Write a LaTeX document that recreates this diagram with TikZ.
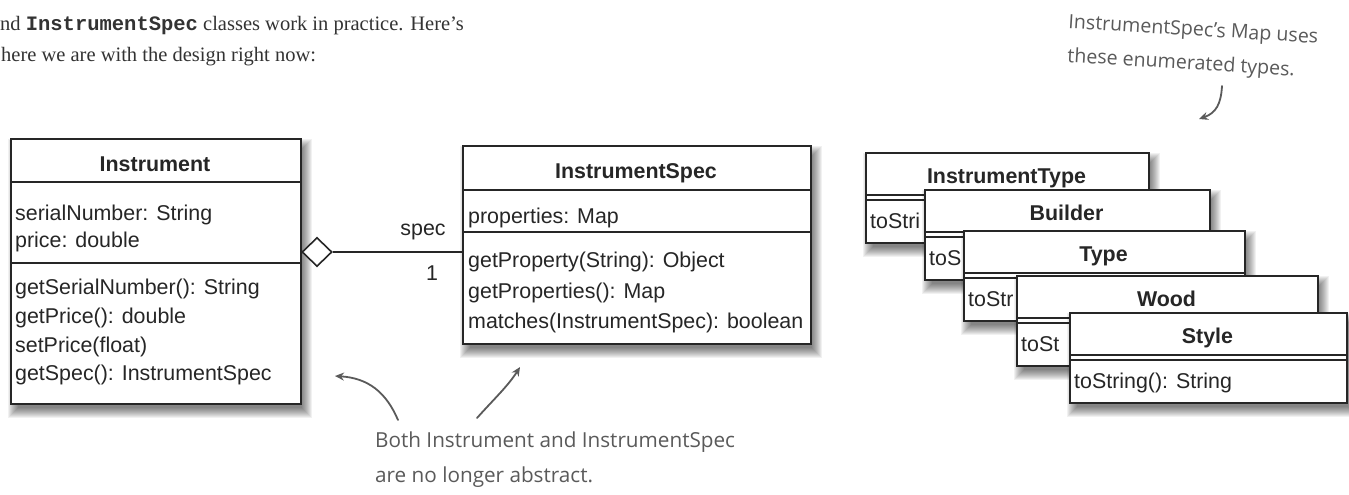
\documentclass[tikz,border=0pt]{standalone}
\usepackage{fontspec}
\setmainfont{Liberation Serif}
\setsansfont{Liberation Sans}
\setmonofont{Liberation Mono}
\newfontfamily\handfont{Open Sans}
\usetikzlibrary{shapes.geometric,arrows.meta}
\definecolor{ink}{HTML}{262626}
\definecolor{pen}{HTML}{5A5A5A}
\definecolor{bodytext}{HTML}{333333}
\newcommand\softshadow[4]{%
  \foreach \d in {-3,...,7}{%
    \fill[black,opacity=0.055] ({#1+5-\d},{#2+8-\d}) rectangle ({#3+5+\d},{#4+8+\d});
  }}
\tikzset{
  umlbox/.style={draw=ink, line width=1.6pt, fill=white, inner sep=0pt, anchor=north west},
  sepline/.style={draw=ink, line width=1.6pt},
  dblline/.style={draw=ink, line width=1.3pt},
  uml/.style={font=\sffamily\fontsize{21.4}{26}\selectfont, text=ink, inner sep=0pt, anchor=base west},
  umltitle/.style={font=\sffamily\bfseries\fontsize{21.4}{26}\selectfont, text=ink, inner sep=0pt, anchor=base},
  hand/.style={font=\handfont\fontsize{20.7}{26}\selectfont, text=pen, inner sep=0pt, anchor=base west},
  smallhand/.style={hand, font=\handfont\fontsize{19.6}{24}\selectfont},
  handarrow/.style={draw=pen, line width=1.8pt, -{Stealth[length=9pt,width=8pt]}, line cap=round},
  intro/.style={font=\rmfamily\fontsize{20.5}{31}\selectfont, text=bodytext, inner sep=0pt, anchor=base west}
}
% name, left, top, right, title, visible part of the method text
\newcommand\enumbox[6]{%
  \softshadow{#2}{#3}{#4}{#3+90}
  \node[umlbox, minimum width={(#4-#2)*1pt}, minimum height=90pt] (#1) at (#2,#3) {};
  \draw[dblline] (#2,{#3+43}) -- (#4,{#3+43});
  \draw[dblline] (#2,{#3+48}) -- (#4,{#3+48});
  \node[umltitle] (#1T) at ({(#2+#4)/2},{#3+31}) {#5};
  \node[uml] (#1M) at ({#2+5},{#3+76}) {#6};
}
\begin{document}
\begin{tikzpicture}[x=1pt,y=-1pt]
\useasboundingbox (0,0) rectangle (1349,495);
\fill[white] (0,0) rectangle (1349,495);

% intro text
\node[intro] (intro1) at (0,31) {nd {\ttfamily\bfseries InstrumentSpec} classes work in practice. Here’s};
\node[intro] (intro2) at (1,62) {here we are with the design right now:};

% Instrument
\softshadow{10}{138}{300}{403}
\node[umlbox, minimum width=290pt, minimum height=265pt] (inst) at (10,138) {};
\draw[sepline] (10,182) -- (300,182);
\draw[sepline] (10,263) -- (300,263);
\node[umltitle] (instT) at (155,171) {Instrument};
\node[uml] (instA1) at (15,220) {serialNumber: String};
\node[uml] (instA2) at (15,247) {price: double};
\node[uml] (instM1) at (15,294) {getSerialNumber(): String};
\node[uml] (instM2) at (15,323) {getPrice(): double};
\node[uml] (instM3) at (15,352) {setPrice(float)};
\node[uml] (instM4) at (15,380) {getSpec(): InstrumentSpec};

% InstrumentSpec
\softshadow{462}{145}{810}{343}
\node[umlbox, minimum width=348pt, minimum height=198pt] (spec) at (462,145) {};
\draw[sepline] (462,190) -- (810,190);
\draw[sepline] (462,232) -- (810,232);
\node[umltitle] (specT) at (636,178) {InstrumentSpec};
\node[uml] (specA1) at (468,223) {properties: Map};
\node[uml] (specM1) at (468,267) {getProperty(String): Object};
\node[uml] (specM2) at (468,298) {getProperties(): Map};
\node[uml] (specM3) at (468,328) {matches(InstrumentSpec): boolean};

% aggregation
\node[diamond, draw=ink, line width=1.6pt, fill=white, minimum width=30pt, minimum height=29pt, inner sep=0pt] (agg) at (317,252) {};
\draw[sepline] (agg.east) -- (agg.east -| spec.west);
\node[uml, anchor=base] (role) at (423,235) {spec};
\node[uml, anchor=base] (mult) at (432,280) {1};

% enumerations (each partly covered by the next)
\enumbox{etype}{865}{152}{1148}{InstrumentType}{toStri}
\enumbox{ebuild}{924}{189}{1209}{Builder}{toS}
\enumbox{etyp}{963}{230}{1244}{Type}{toStr}
\enumbox{ewood}{1016}{275}{1317}{Wood}{toSt}
\enumbox{estyle}{1069}{312}{1346}{Style}{toString(): String}

% notes
\node[smallhand, rotate=-3.5] (note1a) at (1068,28) {InstrumentSpec’s Map uses};
\node[smallhand, rotate=-3.5] (note1b) at (1067,62) {these enumerated types.};
\coordinate (n1s) at (1222,86);
\coordinate (n1e) at (1199,119);
\draw[handarrow] (n1s) .. controls (1221,104) and (1216,113) .. (n1e);

\node[hand] (note2a) at (375,447) {Both Instrument and InstrumentSpec};
\node[hand] (note2b) at (375,482) {are no longer abstract.};
\coordinate (a1s) at (398,420);
\coordinate (a1e) at (335,376);
\coordinate (a2s) at (477,418);
\coordinate (a2e) at (520,367);
\draw[handarrow] (a1s) .. controls (386,392) and (368,378) .. (a1e);
\draw[handarrow] (a2s) .. controls (494,399) and (508,386) .. (a2e);
\end{tikzpicture}
\end{document}
